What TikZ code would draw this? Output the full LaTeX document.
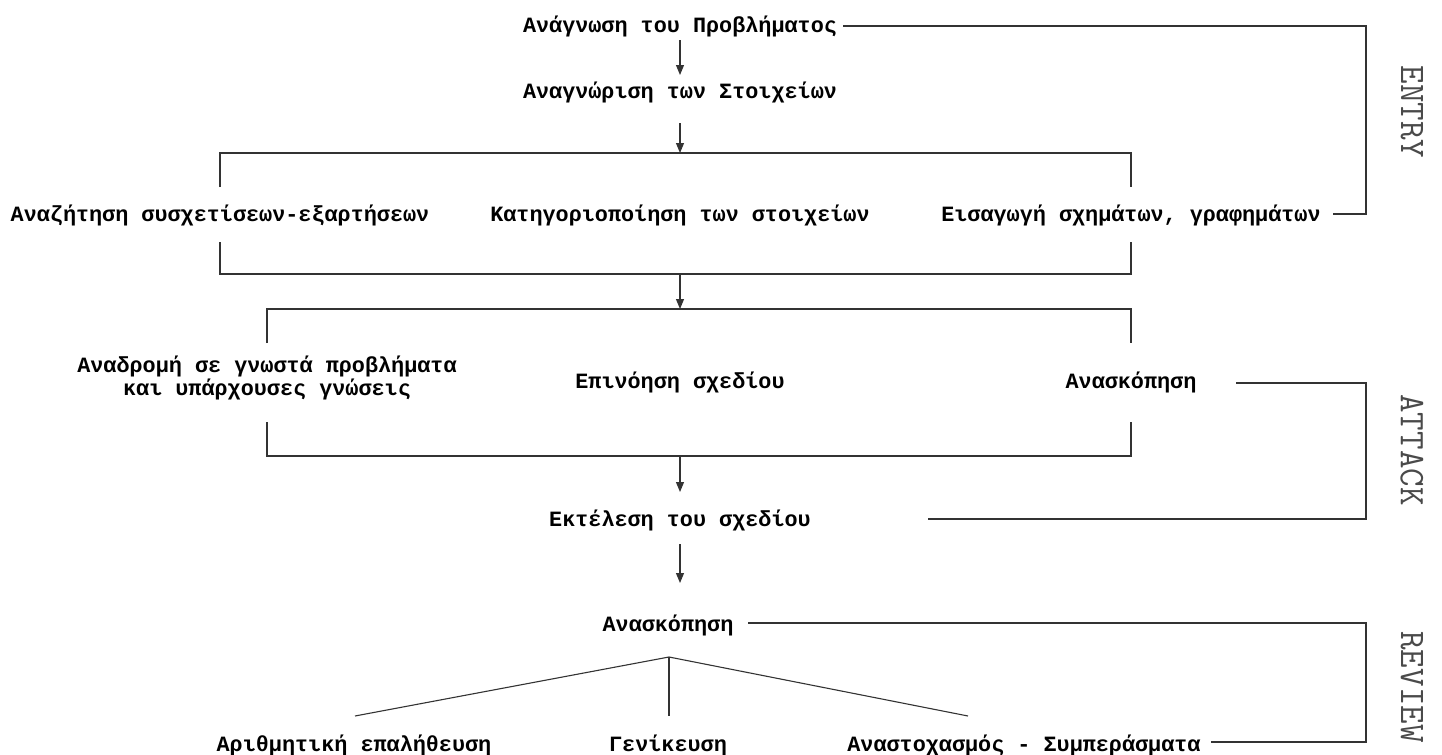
\documentclass[tikz,border=0pt]{standalone}
\usepackage{fontspec}
\setmainfont{Liberation Mono}
\newfontfamily\boxfont{Liberation Mono}[BoldFont={Liberation Mono Bold}]
\usetikzlibrary{arrows.meta}
\definecolor{linegray}{HTML}{333333}
\definecolor{sidegray}{HTML}{4A4A4A}
\tikzset{
  txt/.style={font=\boxfont\bfseries\fontsize{10.9}{11.6}\selectfont, inner sep=0pt, align=center, text=black},
  side/.style={font=\ttfamily\fontsize{18}{18}\selectfont, text=sidegray, rotate=-90, inner sep=0pt},
  ln/.style={draw=linegray, line width=0.55pt},
  arr/.style={ln, -{Triangle[length=5pt,width=4pt]}}
}
\begin{document}
\begin{tikzpicture}[x=0.5pt,y=-0.5pt]
\path[use as bounding box] (0,0) rectangle (1442,755);

% nodes
\node[txt] (n1) at (680,26) {Ανάγνωση του Προβλήματος};
\node[txt] (n2) at (680,92) {Αναγνώριση των Στοιχείων};
\node[txt] (r1l) at (220,215) {Αναζήτηση συσχετίσεων-εξαρτήσεων};
\node[txt] (r1m) at (680,215) {Κατηγοριοποίηση των στοιχείων};
\node[txt] (r1r) at (1131,215) {Εισαγωγή σχημάτων, γραφημάτων};
\node[txt] (r2l) at (267,378) {Αναδρομή σε γνωστά προβλήματα\\και υπάρχουσες γνώσεις};
\node[txt] (r2m) at (680,382) {Επινόηση σχεδίου};
\node[txt] (r2r) at (1131,382) {Ανασκόπηση};
\node[txt] (n5) at (680,520) {Εκτέλεση του σχεδίου};
\node[txt] (n6) at (668,625) {Ανασκόπηση};
\node[txt] (b1) at (354,745) {Αριθμητική επαλήθευση};
\node[txt] (b2) at (668,745) {Γενίκευση};
\node[txt] (b3) at (1024,745) {Αναστοχασμός - Συμπεράσματα};

\node[side] (sEntry) at (1412,112) {ENTRY};
\node[side] (sAttack) at (1412,450) {ATTACK};
\node[side] (sReview) at (1412,687) {REVIEW};

% junction coordinates
\coordinate (a1s) at (680,40);
\coordinate (a1e) at (680,75);
\coordinate (a2s) at (680,123);
\coordinate (j1) at (680,153);
\coordinate (c1lt) at (220,187);
\coordinate (c1rt) at (1131,187);
\coordinate (c1lb) at (220,242);
\coordinate (c1rb) at (1131,242);
\coordinate (j2) at (680,274);
\coordinate (j3) at (680,309);
\coordinate (c2lt) at (267,343);
\coordinate (c2rt) at (1131,343);
\coordinate (c2lb) at (267,422);
\coordinate (c2rb) at (1131,422);
\coordinate (j4) at (680,456);
\coordinate (a4e) at (680,492);
\coordinate (a5s) at (680,544);
\coordinate (a5e) at (680,583);
\coordinate (apex) at (669,657);
\coordinate (t1) at (355,716);
\coordinate (t2) at (669,716);
\coordinate (t3) at (968,716);

% main flow
\draw[arr] (a1s) -- (a1e);
\draw[arr] (a2s) -- (j1);
\draw[ln] (c1lt) |- (j1) -| (c1rt);
\draw[ln] (c1lb) |- (j2) -| (c1rb);
\draw[arr] (j2) -- (j3);
\draw[ln] (c2lt) |- (j3) -| (c2rt);
\draw[ln] (c2lb) |- (j4) -| (c2rb);
\draw[arr] (j4) -- (a4e);
\draw[arr] (a5s) -- (a5e);
\draw[ln] (t1) -- (apex) -- (t3);
\draw[ln] (apex) -- (t2);

% side brackets
\coordinate (e1) at (843,26);
\coordinate (e2) at (1366,26);
\coordinate (e3) at (1366,214);
\coordinate (e4) at (1333,214);
\draw[ln] (e1) -- (e2) -- (e3) -- (e4);
\coordinate (k1) at (1236,383);
\coordinate (k2) at (1366,383);
\coordinate (k3) at (1366,519);
\coordinate (k4) at (928,519);
\draw[ln] (k1) -- (k2) -- (k3) -- (k4);
\coordinate (v1) at (748,623);
\coordinate (v2) at (1366,623);
\coordinate (v3) at (1366,742);
\coordinate (v4) at (1211,742);
\draw[ln] (v1) -- (v2) -- (v3) -- (v4);
\end{tikzpicture}
\end{document}
